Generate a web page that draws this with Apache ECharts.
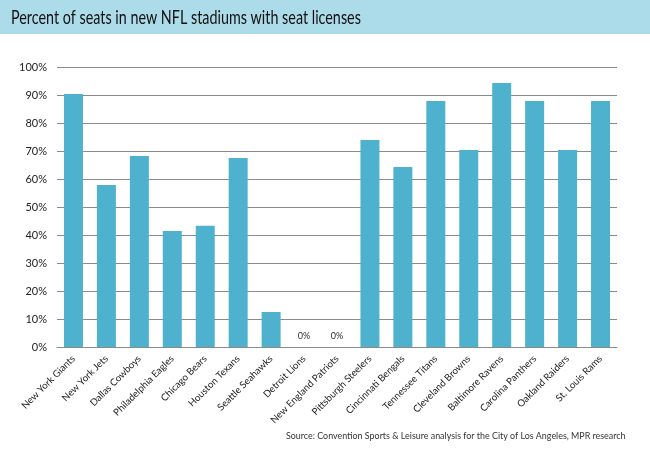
<!DOCTYPE html>
<html>
<head>
<meta charset="utf-8">
<script src="https://cdn.jsdelivr.net/npm/echarts@6/dist/echarts.min.js"></script>
<style>html,body{margin:0;padding:0;background:#fff;}#c{width:650px;height:450px;}</style>
</head>
<body>
<div id="c"></div>
<script>
const teams = ["New York Giants","New York Jets","Dallas Cowboys","Philadelphia Eagles","Chicago Bears","Houston Texans","Seattle Seahawks","Detroit Lions","New England Patriots","Pittsburgh Steelers","Cincinnati Bengals","Tennessee Titans","Cleveland Browns","Baltimore Ravens","Carolina Panthers","Oakland Raiders","St. Louis Rams"];
const pctWithLicenses = [90.4, 57.9, 68.2, 41.4, 43.3, 67.5, 12.5, 0, 0, 73.9, 64.3, 87.9, 70.4, 94.3, 87.9, 70.4, 87.9];
const titleText = "Percent of seats in new NFL stadiums with seat licenses";
const sourceText = "Source: Convention Sports & Leisure analysis for the City of Los Angeles, MPR research";

const chart = echarts.init(document.getElementById('c'));
const font = 'Lato, "Open Sans", sans-serif';
chart.setOption({
  animation: false,
  textStyle: { fontFamily: font },
  graphic: [
    { type: 'rect', shape: { x: 0, y: 0, width: 650, height: 34 }, style: { fill: '#acdcea' }, z: 0 },
    { type: 'text', x: 11, y: 8, scaleX: 0.755, style: { text: titleText, font: '19px ' + font, fill: '#111' }, z: 1 },
    { type: 'text', x: 286, y: 431, scaleX: 0.89, style: { text: sourceText, font: '10px ' + font, fill: '#333' }, z: 1 }
  ],
  grid: { left: 57, right: 33, top: 67, bottom: 103, containLabel: false },
  xAxis: {
    type: 'category',
    data: teams,
    axisTick: { show: false },
    axisLine: { lineStyle: { color: '#8a8a8a', width: 1 } },
    axisLabel: { rotate: 45, interval: 0, fontSize: 9.7, color: '#222', margin: 10 }
  },
  yAxis: {
    type: 'value',
    min: 0, max: 100, interval: 10,
    axisLine: { show: false },
    axisTick: { show: false },
    axisLabel: { formatter: '{value}%', fontSize: 11, color: '#222', margin: 10 },
    splitLine: { lineStyle: { color: '#8a8a8a', width: 1 } }
  },
  series: [{
    type: 'bar',
    data: pctWithLicenses,
    barWidth: 19,
    itemStyle: { color: '#4eb2cf' },
    label: {
      show: true, position: 'top', distance: 6, fontSize: 9, color: '#333',
      formatter: p => p.value === 0 ? '0%' : ''
    }
  }]
});
</script>
</body>
</html>
